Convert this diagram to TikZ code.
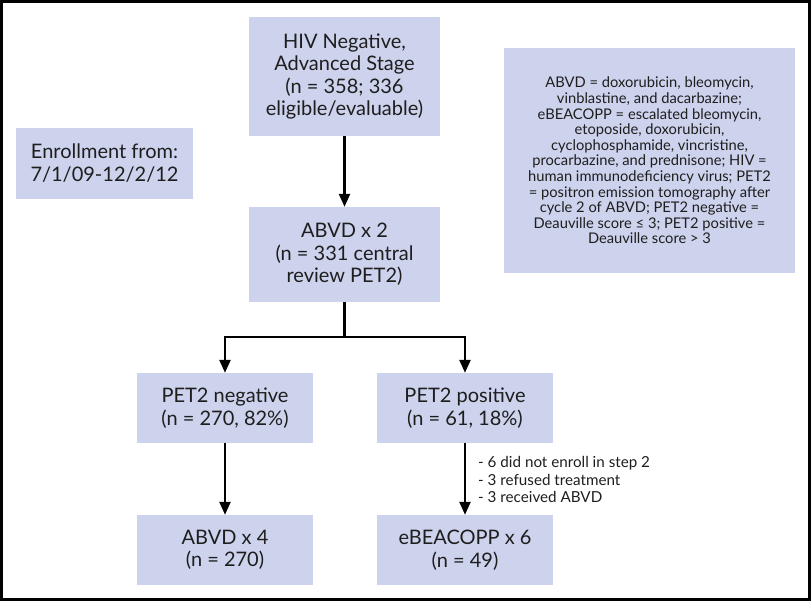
\documentclass[tikz,border=0pt]{standalone}
\usepackage{fontspec}
\setmainfont{Lato}
\usetikzlibrary{arrows.meta}
\definecolor{boxfill}{RGB}{205,211,237}
\definecolor{txt}{RGB}{30,30,30}
\tikzset{
  box/.style={draw=none, fill=boxfill, inner sep=0pt, align=center, text=txt,
    font=\fontsize{20}{22.5}\selectfont},
  legendbox/.style={box, font=\fontsize{14.7}{15.6}\selectfont},
  conn/.style={line width=2.4pt, draw=black},
  arr/.style={conn, -{Triangle[length=13pt,width=11pt]}},
  notetext/.style={inner sep=0pt, align=left, text=txt, font=\fontsize{15.2}{17.5}\selectfont, anchor=west}
}
\begin{document}
\begin{tikzpicture}[x=1pt,y=-1pt]
\useasboundingbox (0,0) rectangle (812,602);
\draw[line width=3pt] (1.5,1.5) rectangle (809.5,599.5);

\node[box, minimum width=191pt, minimum height=119pt] (top) at (344.5,76.5)
  {HIV Negative,\\Advanced Stage\\(n = 358; 336\\eligible/evaluable)};
\node[box, minimum width=177pt, minimum height=71pt] (enroll) at (104.5,163)
  {Enrollment from:\\7/1/09-12/2/12};
\node[legendbox, minimum width=291pt, minimum height=225pt] (legend) at (649.5,160.5)
  {ABVD = doxorubicin, bleomycin,\\vinblastine, and dacarbazine;\\eBEACOPP = escalated bleomycin,\\etoposide, doxorubicin,\\cyclophosphamide, vincristine,\\procarbazine, and prednisone; HIV =\\human immunodeficiency virus; PET2\\= positron emission tomography after\\cycle 2 of ABVD; PET2 negative =\\Deauville score ≤ 3; PET2 positive =\\Deauville score > 3};
\node[box, minimum width=191pt, minimum height=95pt] (abvd2) at (344.5,254.5)
  {ABVD x 2\\(n = 331 central\\review PET2)};
\node[box, minimum width=176pt, minimum height=70pt] (neg) at (225,408)
  {PET2 negative\\(n = 270, 82\%)};
\node[box, minimum width=176pt, minimum height=70pt] (pos) at (465,408)
  {PET2 positive\\(n = 61, 18\%)};
\node[box, minimum width=176pt, minimum height=70pt] (abvd4) at (225,550)
  {ABVD x 4\\(n = 270)};
\node[box, minimum width=176pt, minimum height=70pt] (ebea) at (465,550)
  {eBEACOPP x 6\\(n = 49)};
\node[notetext] (note) at (478,479.5)
  {- 6 did not enroll in step 2\\- 3 refused treatment\\- 3 received ABVD};

\coordinate (br) at (344.5,337);
\draw[arr] (top.south) -- (abvd2.north);
\draw[conn] (abvd2.south) -- (br);
\draw[arr] (br) -| (neg.north);
\draw[arr] (br) -| (pos.north);
\draw[arr] (neg.south) -- (abvd4.north);
\draw[arr] (pos.south) -- (ebea.north);
\end{tikzpicture}
\end{document}
